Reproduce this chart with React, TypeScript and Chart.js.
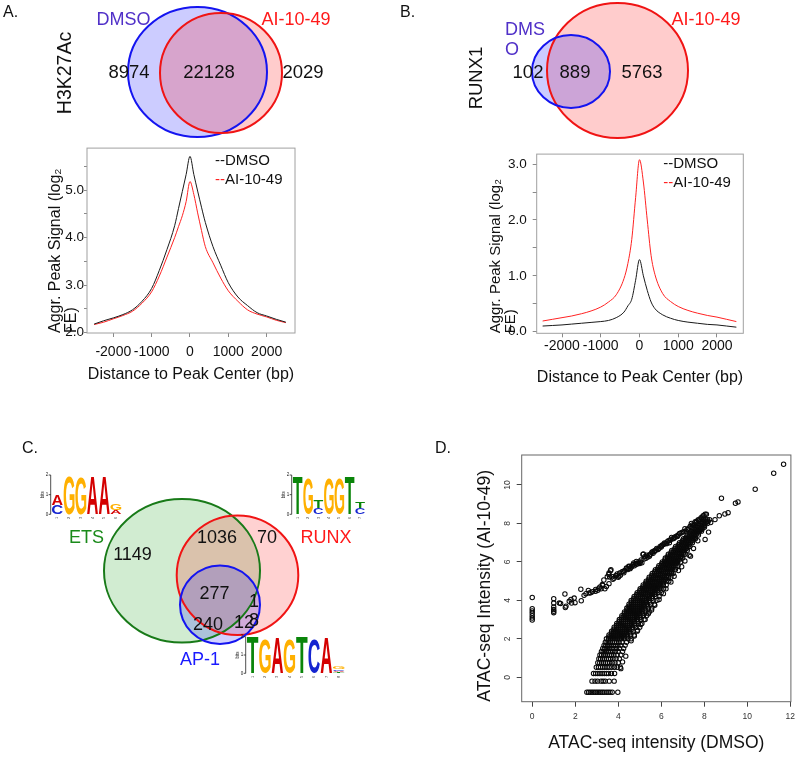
import React, { useEffect, useRef } from "react";
import { Chart, registerables } from "chart.js";

Chart.register(...registerables);

const FONT = '"Liberation Sans", Arial, Helvetica, sans-serif';
Chart.defaults.font.family = FONT;
Chart.defaults.color = "#111";

// ---------------- Panels A / B : aggregate peak profiles ----------------
const distanceBp = [-2500, -2250, -2000, -1750, -1500, -1250, -1000, -800, -600, -400, -300, -200, -100, 0, 100, 200, 300, 400, 600, 800, 1000, 1250, 1500, 1750, 2000, 2250, 2500];
const distanceTicks = [-2000, -1000, 0, 1000, 2000];
const seriesNames = ["DMSO", "AI-10-49"];
const h3k27acDmso = [2.18, 2.25, 2.31, 2.38, 2.48, 2.66, 2.93, 3.31, 3.75, 4.25, 4.61, 4.97, 5.33, 5.71, 5.33, 4.98, 4.64, 4.32, 3.81, 3.42, 3.05, 2.75, 2.57, 2.42, 2.35, 2.28, 2.22];
const h3k27acAi = [2.17, 2.22, 2.29, 2.36, 2.45, 2.62, 2.86, 3.19, 3.59, 4.0, 4.23, 4.46, 4.76, 5.18, 4.91, 4.52, 4.15, 3.81, 3.47, 3.15, 2.88, 2.66, 2.48, 2.39, 2.33, 2.26, 2.21];
const runx1Dmso = [0.1, 0.11, 0.12, 0.135, 0.15, 0.165, 0.18, 0.2, 0.25, 0.35, 0.46, 0.58, 0.92, 1.29, 1.0, 0.74, 0.53, 0.41, 0.3, 0.24, 0.2, 0.17, 0.15, 0.13, 0.12, 0.1, 0.08];
const runx1Ai = [0.19, 0.22, 0.25, 0.28, 0.32, 0.37, 0.44, 0.53, 0.66, 0.95, 1.22, 1.65, 2.4, 3.08, 2.68, 2.0, 1.36, 1.02, 0.68, 0.54, 0.45, 0.38, 0.33, 0.29, 0.26, 0.22, 0.18];
const profileXTitle = "Distance to Peak Center (bp)";
const profileYTitle = ["Aggr. Peak Signal (log\u2082", "FE)"];

// ---------------- Venn diagrams ----------------
const vennATitle = "H3K27Ac";
const vennASets = ["DMSO", "AI-10-49"];
const vennACounts = [8974, 22128, 2029];
const vennBTitle = "RUNX1";
const vennBSets = ["DMSO", "AI-10-49"];
const vennBCounts = [102, 889, 5763];
const vennCSets = ["ETS", "RUNX", "AP-1"];
const vennCCounts = [1149, 1036, 70, 277, 1, 240, 12, 8];

// ---------------- Motif logos (stacks bottom -> top, in bits) ----------------
const etsMotif: [string, number][][] = [
  [["C", 0.47], ["A", 0.52]],
  [["G", 1.92]],
  [["G", 1.87]],
  [["A", 1.92]],
  [["A", 1.92]],
  [["A", 0.22], ["G", 0.34]],
];
const runxMotif: [string, number][][] = [
  [["T", 1.92]],
  [["G", 1.83]],
  [["C", 0.3], ["T", 0.4]],
  [["G", 1.83]],
  [["G", 1.83]],
  [["T", 1.92]],
  [["C", 0.3], ["T", 0.3]],
];
const ap1Motif: [string, number][][] = [
  [["T", 1.96]],
  [["G", 1.9]],
  [["A", 1.9]],
  [["G", 1.9]],
  [["T", 1.96]],
  [["C", 1.9]],
  [["A", 1.9]],
  [["T", 0.06], ["A", 0.08], ["C", 0.1], ["G", 0.12]],
];

// ---------------- Panel D : ATAC-seq scatter ----------------
const atacXTitle = "ATAC-seq intensity (DMSO)";
const atacYTitle = "ATAC-seq Intensity (AI-10-49)";
const atacUpperArm: [number, number][] = [
  [0, 4.15], [0, 3.57], [0, 3.45], [0, 3.33], [0, 3.2], [0, 3.08], [0, 2.98],
  [1, 4.09], [1, 3.86], [1, 3.65], [1, 3.52], [1, 3.43], [1, 3.36],
  [1.26, 3.86], [1.32, 3.84], [1.52, 4.33], [1.54, 3.63], [1.57, 3.7], [1.72, 3.95], [1.8, 4.05], [1.83, 3.86], [1.95, 4.12], [1.99, 3.88],
  [2.26, 4.58], [2.28, 3.98], [2.41, 4.26], [2.5, 4.35], [2.61, 4.52], [2.65, 4.38], [2.72, 4.4], [2.8, 4.45], [2.95, 4.57], [2.95, 4.47],
  [3.05, 4.52], [3.1, 4.63], [3.15, 4.7], [3.2, 4.6], [3.26, 4.82], [3.28, 4.78], [3.33, 5.06], [3.38, 4.6], [3.45, 4.72], [3.49, 5.23],
  [3.56, 5.35], [3.57, 5.43], [3.57, 4.87], [3.6, 5.22], [3.64, 5.54], [3.66, 5.59], [3.72, 5.23], [3.75, 5.1], [3.8, 5.15], [3.88, 5.28],
  [3.92, 5.28], [3.95, 5.37], [4.0, 5.2], [4.03, 5.25], [4.07, 5.42], [4.1, 5.3], [4.18, 5.49], [4.23, 5.5], [4.26, 5.43], [4.3, 5.55],
  [4.38, 5.68], [4.41, 5.66], [4.45, 5.6], [4.49, 5.77], [4.53, 5.76], [4.55, 5.65], [4.6, 5.72], [4.64, 5.78], [4.68, 5.85], [4.72, 5.95],
  [4.75, 5.8], [4.8, 5.92], [4.84, 6.02], [4.85, 5.88], [4.9, 5.9], [4.95, 6.0], [5.0, 5.92], [5.03, 6.0], [5.06, 6.1], [5.1, 5.95],
  [5.15, 6.39], [5.17, 6.41], [5.2, 6.15], [5.25, 6.28], [5.29, 6.19], [5.33, 6.35], [5.38, 6.25], [5.44, 6.36], [5.45, 6.3], [5.5, 6.4],
  [5.56, 6.49], [5.59, 6.53], [5.62, 6.45], [5.68, 6.58], [5.7, 6.55], [5.75, 6.62], [5.79, 6.7], [5.85, 6.65], [5.9, 6.71], [5.95, 6.8],
  [6.0, 6.78], [6.02, 6.84], [6.05, 6.88], [6.1, 6.9], [6.15, 6.98], [6.18, 6.95], [6.25, 6.95], [6.28, 7.05], [6.33, 7.1], [6.38, 7.0],
  [6.4, 7.12], [6.44, 7.17], [6.48, 7.27], [6.55, 7.2], [6.59, 7.23], [6.62, 7.28], [6.65, 7.3], [6.72, 7.35], [6.75, 7.32], [6.79, 7.4],
  [6.85, 7.48], [6.92, 7.5], [6.98, 7.55], [7.05, 7.57], [7.1, 7.73], [7.15, 7.6], [7.2, 7.69], [7.25, 7.68], [7.28, 7.75], [7.35, 7.85],
  [7.4, 8.0], [7.43, 7.8], [7.45, 7.92], [7.5, 7.9], [7.55, 7.95], [7.58, 8.09], [7.62, 8.05], [7.65, 8.1], [7.71, 8.18], [7.73, 8.18],
  [7.8, 8.2], [7.85, 8.3], [7.88, 8.27], [7.94, 8.39], [7.98, 8.42], [8.04, 8.48], [8.1, 8.48],
];
const atacBandRows: [number, number[]][] = [
  [-0.78, [2.54, 2.62, 2.7, 2.78, 2.86, 2.94, 3.02, 3.1, 3.18, 3.26, 3.34, 3.44, 3.53, 3.62, 3.72, 3.98]],
  [-0.2, [2.78, 2.92, 3.04, 3.2, 3.3, 3.4, 3.58, 3.81]],
  [0.2, [2.85, 2.95, 3.05, 3.15, 3.25, 3.35, 3.45, 3.55, 3.68, 3.83]],
  [0.52, [2.98, 3.08, 3.18, 3.28, 3.38, 3.48, 3.58, 3.7, 3.82, 3.95, 4.1]],
  [0.76, [3.05, 3.14, 3.23, 3.32, 3.41, 3.5, 3.6, 3.72, 3.85, 4.0]],
  [0.97, [3.1, 3.18, 3.27, 3.36, 3.45, 3.54, 3.64, 3.76, 3.9, 4.05]],
  [1.16, [3.15, 3.23, 3.32, 3.4, 3.49, 3.58, 3.68, 3.8, 3.95, 4.12]],
  [1.34, [3.22, 3.3, 3.38, 3.46, 3.55, 3.64, 3.74, 3.86, 4.0, 4.2]],
  [1.5, [3.28, 3.36, 3.44, 3.52, 3.6, 3.7, 3.8, 3.92, 4.06, 4.25]],
  [1.66, [3.34, 3.42, 3.5, 3.58, 3.67, 3.76, 3.86, 3.98, 4.12, 4.32]],
  [1.82, [3.4, 3.48, 3.56, 3.64, 3.73, 3.82, 3.92, 4.04, 4.18, 4.38]],
  [2.0, [3.45, 3.55, 3.65, 3.75, 3.85, 3.95, 4.05, 4.15, 4.3, 4.45, 4.6]],
  [2.1, [3.56, 3.66, 3.76, 3.86, 3.96, 4.06, 4.16, 4.27, 4.4]],
  [2.2, [3.57, 3.67, 3.77, 3.87, 3.97, 4.07, 4.17, 4.28, 4.42, 4.58, 4.74]],
  [2.3, [3.68, 3.78, 3.88, 3.98, 4.08, 4.18, 4.28, 4.39, 4.52]],
  [2.4, [3.69, 3.79, 3.89, 3.99, 4.09, 4.19, 4.29, 4.4, 4.55, 4.7, 4.88]],
  [2.5, [3.8, 3.9, 4.0, 4.1, 4.2, 4.3, 4.4, 4.51, 4.64]],
  [2.6, [3.81, 3.91, 4.01, 4.11, 4.21, 4.31, 4.41, 4.52, 4.67, 4.83, 5.0]],
  [2.7, [3.92, 4.02, 4.12, 4.22, 4.32, 4.42, 4.52, 4.63, 4.76]],
  [2.8, [3.93, 4.03, 4.13, 4.23, 4.33, 4.43, 4.53, 4.64, 4.78, 4.94, 5.1]],
  [2.9, [4.04, 4.14, 4.24, 4.34, 4.44, 4.54, 4.64, 4.75, 4.88]],
  [3.0, [4.05, 4.15, 4.25, 4.35, 4.45, 4.55, 4.65, 4.76, 4.9, 5.05, 5.2]],
  [3.1, [4.16, 4.26, 4.36, 4.46, 4.56, 4.66, 4.76, 4.87, 5.0]],
  [3.2, [4.17, 4.27, 4.37, 4.47, 4.57, 4.67, 4.77, 4.88, 5.02, 5.17, 5.32]],
  [3.3, [4.28, 4.38, 4.48, 4.58, 4.68, 4.78, 4.88, 4.99, 5.12]],
  [3.4, [4.29, 4.39, 4.49, 4.59, 4.69, 4.79, 4.89, 5.0, 5.14, 5.29, 5.44]],
  [3.5, [4.4, 4.5, 4.6, 4.7, 4.8, 4.9, 5.0, 5.11, 5.24]],
  [3.6, [4.4, 4.5, 4.6, 4.7, 4.8, 4.9, 5.0, 5.11, 5.25, 5.4, 5.56]],
  [3.7, [4.5, 4.6, 4.7, 4.8, 4.9, 5.0, 5.1, 5.21, 5.34]],
  [3.8, [4.5, 4.6, 4.7, 4.8, 4.9, 5.0, 5.1, 5.21, 5.35, 5.51, 5.68]],
  [3.9, [4.6, 4.7, 4.8, 4.9, 5.0, 5.1, 5.2, 5.31, 5.45]],
  [4.0, [4.6, 4.7, 4.8, 4.9, 5.0, 5.1, 5.2, 5.31, 5.46, 5.62, 5.8]],
  [4.1, [4.72, 4.82, 4.92, 5.02, 5.12, 5.22, 5.32, 5.43, 5.56]],
  [4.2, [4.74, 4.84, 4.94, 5.04, 5.14, 5.24, 5.34, 5.45, 5.59, 5.74, 5.9]],
  [4.3, [4.86, 4.96, 5.06, 5.16, 5.26, 5.36, 5.46, 5.57, 5.69]],
  [4.4, [4.88, 4.98, 5.08, 5.18, 5.28, 5.38, 5.48, 5.59, 5.72, 5.86, 6.0]],
  [4.5, [5.0, 5.1, 5.2, 5.3, 5.4, 5.5, 5.6, 5.71, 5.82]],
  [4.6, [5.02, 5.12, 5.22, 5.32, 5.42, 5.52, 5.62, 5.73, 5.85, 5.98, 6.11]],
  [4.7, [5.14, 5.24, 5.34, 5.44, 5.54, 5.64, 5.74, 5.85, 5.95]],
  [4.8, [5.16, 5.26, 5.36, 5.46, 5.56, 5.66, 5.76, 5.87, 5.98, 6.1, 6.23]],
  [4.9, [5.28, 5.38, 5.48, 5.58, 5.68, 5.78, 5.88, 5.98, 6.08]],
  [5.0, [5.3, 5.4, 5.5, 5.6, 5.7, 5.8, 5.9, 6.0, 6.11, 6.23, 6.35]],
  [5.1, [5.42, 5.52, 5.62, 5.72, 5.82, 5.92, 6.02, 6.12, 6.2]],
  [5.2, [5.44, 5.54, 5.64, 5.74, 5.84, 5.94, 6.04, 6.14, 6.24, 6.34, 6.45]],
  [5.3, [5.56, 5.66, 5.76, 5.86, 5.96, 6.06, 6.16, 6.26, 6.33]],
  [5.4, [5.58, 5.68, 5.78, 5.88, 5.98, 6.08, 6.18, 6.28, 6.38, 6.47, 6.55]],
  [5.5, [5.7, 5.8, 5.9, 6.0, 6.1, 6.2, 6.3, 6.4, 6.47]],
  [5.6, [5.73, 5.83, 5.93, 6.03, 6.13, 6.23, 6.33, 6.43, 6.54, 6.66]],
  [5.7, [5.86, 5.96, 6.06, 6.16, 6.26, 6.36, 6.46, 6.55]],
  [5.8, [5.89, 5.99, 6.09, 6.19, 6.29, 6.39, 6.49, 6.59, 6.68, 6.78]],
  [5.9, [6.02, 6.12, 6.22, 6.32, 6.42, 6.52, 6.62, 6.7]],
  [6.0, [6.05, 6.15, 6.25, 6.35, 6.45, 6.55, 6.65, 6.75, 6.9]],
  [6.1, [6.17, 6.27, 6.37, 6.47, 6.57, 6.67, 6.77, 6.84]],
  [6.2, [6.19, 6.29, 6.39, 6.49, 6.59, 6.69, 6.79, 6.89, 7.0]],
  [6.3, [6.31, 6.41, 6.51, 6.61, 6.71, 6.81, 6.9, 6.96]],
  [6.4, [6.33, 6.43, 6.53, 6.63, 6.73, 6.83, 6.93, 7.02, 7.1]],
  [6.5, [6.46, 6.56, 6.66, 6.76, 6.86, 6.96, 7.04]],
  [6.6, [6.49, 6.59, 6.69, 6.79, 6.89, 6.99, 7.09, 7.21]],
  [6.7, [6.63, 6.73, 6.83, 6.93, 7.03, 7.12, 7.18]],
  [6.8, [6.67, 6.77, 6.87, 6.97, 7.07, 7.17, 7.25, 7.33]],
  [6.9, [6.81, 6.91, 7.01, 7.11, 7.21, 7.3]],
  [7.0, [6.85, 6.95, 7.05, 7.15, 7.25, 7.35, 7.45]],
  [7.1, [6.99, 7.09, 7.19, 7.29, 7.39, 7.46]],
  [7.2, [7.03, 7.13, 7.23, 7.33, 7.43, 7.51, 7.59]],
  [7.3, [7.17, 7.27, 7.37, 7.47, 7.57]],
  [7.4, [7.21, 7.31, 7.41, 7.51, 7.61, 7.73]],
  [7.5, [7.35, 7.45, 7.55, 7.65, 7.73]],
  [7.6, [7.39, 7.49, 7.59, 7.69, 7.78, 7.87]],
  [7.7, [7.53, 7.63, 7.73, 7.83, 7.9]],
  [7.8, [7.57, 7.67, 7.77, 7.87, 7.95, 8.01]],
  [7.9, [7.71, 7.81, 7.91, 8.01]],
  [8.0, [7.75, 7.85, 7.95, 8.05, 8.15]],
  [8.1, [7.9, 8.0, 8.1, 8.18]],
  [8.2, [7.95, 8.05, 8.15, 8.25]],
];
const atacOutliers: [number, number][] = [
  [4.12, 0.45], [4.2, 0.8], [4.35, 1.1], [4.6, 1.9], [4.75, 2.15], [4.9, 2.45], [5.05, 2.75], [5.25, 3.0], [5.4, 3.3],
  [5.55, 3.5], [5.7, 3.75], [5.9, 4.05], [6.1, 4.35], [6.22, 4.6], [6.45, 4.95], [6.6, 5.25], [6.8, 5.55], [6.95, 5.75],
  [7.1, 6.05], [7.3, 6.35], [7.36, 6.3], [7.5, 6.7], [7.7, 7.1], [8.04, 7.17], [8.2, 7.55],
  [8.3, 8.05], [8.5, 8.2], [8.7, 8.4], [8.96, 8.49], [9.11, 8.56], [8.8, 9.31], [9.45, 9.05], [9.57, 9.12],
  [10.37, 9.78], [11.23, 10.61], [11.69, 11.08],
];

// ---------------- helpers ----------------
const plotBox = {
  id: "plotBox",
  afterDraw(chart: any, _a: any, opts: any) {
    const { ctx, chartArea: c } = chart;
    ctx.save();
    ctx.strokeStyle = opts.color || "#999";
    ctx.lineWidth = 1;
    ctx.strokeRect(c.left, c.top, c.right - c.left, c.bottom - c.top);
    ctx.restore();
  },
};

const profileLegend = {
  id: "profileLegend",
  afterDraw(chart: any, _a: any, opts: any) {
    const { ctx } = chart;
    ctx.save();
    ctx.font = `15px ${FONT}`;
    ctx.textBaseline = "middle";
    ctx.textAlign = "left";
    chart.data.datasets.forEach((ds: any, i: number) => {
      const y = opts.y[i];
      ctx.fillStyle = ds.borderColor;
      ctx.fillText("--", opts.x, y);
      const w = ctx.measureText("--").width;
      ctx.fillStyle = "#111";
      ctx.fillText(ds.label, opts.x + w, y);
    });
    ctx.restore();
  },
};

function buildProfile(dmso: number[], ai: number[], L: any) {
  return {
    type: "line",
    data: {
      datasets: [
        { label: seriesNames[0], data: distanceBp.map((x, i) => ({ x, y: dmso[i] })), borderColor: "#1a1a1a", borderWidth: 1, pointRadius: 0, cubicInterpolationMode: "monotone", fill: false },
        { label: seriesNames[1], data: distanceBp.map((x, i) => ({ x, y: ai[i] })), borderColor: "#ff2222", borderWidth: 1, pointRadius: 0, cubicInterpolationMode: "monotone", fill: false },
      ],
    },
    options: {
      responsive: false,
      animation: false,
      events: [],
      layout: { padding: { top: L.padTop, right: L.padRight, left: 0, bottom: 0 } },
      plugins: {
        legend: { display: false },
        tooltip: { enabled: false },
        plotBox: { color: "#a0a0a0" },
        profileLegend: { x: L.legendX, y: L.legendY },
      },
      scales: {
        x: {
          type: "linear",
          min: L.xMin,
          max: L.xMax,
          afterFit: (s: any) => { s.height = L.xAxisHeight; },
          afterBuildTicks: (s: any) => { s.ticks = distanceTicks.map((v) => ({ value: v })); },
          ticks: { autoSkip: false, maxRotation: 0, minRotation: 0, padding: L.xTickPad, color: "#111", font: { size: 14 }, callback: (v: any) => String(v) },
          grid: { drawOnChartArea: false, drawTicks: true, tickLength: 4, color: "#8a8a8a" },
          border: { display: false },
          title: { display: true, text: profileXTitle, color: "#111", font: { size: 16 }, padding: { top: 0, bottom: L.xTitlePad } },
        },
        y: {
          type: "linear",
          min: L.yMin,
          max: L.yMax,
          afterFit: (s: any) => { s.width = L.yAxisWidth; },
          ticks: {
            stepSize: 0.5, includeBounds: false, autoSkip: false, padding: L.yTickPad, color: "#111", font: { size: 13.5 },
            callback: (v: any) => (Math.abs(v - Math.round(v)) < 1e-6 ? Number(v).toFixed(1) : ""),
          },
          grid: { drawOnChartArea: false, drawTicks: true, tickLength: L.yTickLen, color: "#8a8a8a" },
          border: { display: false },
          title: { display: true, text: profileYTitle, align: "start", color: "#111", font: { size: L.yTitleSize, lineHeight: L.yTitleLH }, padding: { top: L.yTitlePad, bottom: 0 } },
        },
      },
    },
    plugins: [plotBox, profileLegend],
  };
}

const layoutA = { xMin: -2686, xMax: 2739, yMin: 1.992, yMax: 5.884, yAxisWidth: 87, xAxisHeight: 57, padTop: 5, padRight: 15, yTickLen: 3, yTickPad: 0, xTickPad: 7, xTitlePad: 5.4, yTitleSize: 16, yTitleLH: 1.0, yTitlePad: 48, legendX: 215, legendY: [21, 40] };
const layoutB = { xMin: -2653, xMax: 2679, yMin: -0.03, yMax: 3.18, yAxisWidth: 126.7, xAxisHeight: 56.7, padTop: 9.5, padRight: 11.7, yTickLen: 4, yTickPad: 6, xTickPad: 0, xTitlePad: 3.1, yTitleSize: 15, yTitleLH: 0.95, yTitlePad: 79, legendX: 253.3, legendY: [24, 42.5] };

function buildScatter() {
  const bandPts: [number, number][] = [];
  atacBandRows.forEach(([y, xs]) => xs.forEach((x) => bandPts.push([x, y])));
  const toXY = (arr: [number, number][]) => arr.map(([x, y]) => ({ x, y }));
  const style = { pointStyle: "circle", pointRadius: 2.2, pointBorderWidth: 1.05, pointBorderColor: "#0a0a0a", pointBackgroundColor: "rgba(0,0,0,0)", showLine: false };
  return {
    type: "scatter",
    data: {
      datasets: [
        { label: "upper", data: toXY(atacUpperArm), ...style },
        { label: "band", data: toXY(bandPts), ...style },
        { label: "outliers", data: toXY(atacOutliers), ...style },
      ],
    },
    options: {
      responsive: false,
      animation: false,
      events: [],
      layout: { padding: { top: 25, right: 6.7, left: 0, bottom: 0 } },
      plugins: { legend: { display: false }, tooltip: { enabled: false }, plotBox: { color: "#666" } },
      scales: {
        x: {
          type: "linear", min: -0.49, max: 12.03,
          afterFit: (s: any) => { s.height = 55.3; },
          ticks: { stepSize: 2, includeBounds: false, autoSkip: false, maxRotation: 0, padding: 5, color: "#333", font: { size: 8.5 }, callback: (v: any) => String(v) },
          grid: { drawOnChartArea: false, drawTicks: true, tickLength: 5, color: "#444" },
          border: { display: false },
          title: { display: true, text: atacXTitle, color: "#111", font: { size: 17.5 }, padding: { top: 0, bottom: 3.2 } },
        },
        y: {
          type: "linear", min: -1.27, max: 11.56,
          afterFit: (s: any) => { s.width = 101.7; },
          ticks: { stepSize: 2, includeBounds: false, autoSkip: false, minRotation: 90, maxRotation: 90, crossAlign: "center", padding: 4, color: "#333", font: { size: 8.5 }, callback: (v: any) => String(v) },
          grid: { drawOnChartArea: false, drawTicks: true, tickLength: 5, color: "#444" },
          border: { display: false },
          title: { display: true, text: atacYTitle, align: "start", color: "#111", font: { size: 17.5 }, padding: { top: 54.5, bottom: 0 } },
        },
      },
    },
    plugins: [plotBox],
  };
}

// ---------------- overlay (panel letters, Venns, logos) ----------------
const GLYPH_COLORS: Record<string, string> = { A: "#d40000", C: "#1525d0", G: "#ffb000", T: "#0a850a" };

const vennALayout = {
  shapes: [
    { cx: 197.5, cy: 72, rx: 69.5, ry: 65, fill: "rgba(0,0,255,0.2)", stroke: "#1414f0" },
    { cx: 221, cy: 73, rx: 61, ry: 60, fill: "rgba(255,0,0,0.2)", stroke: "#f01414" },
  ],
  labels: [{ x: 123.5, y: 25, color: "#5030c8", align: "center" }, { x: 296, y: 25, color: "#ff1a1a", align: "center" }],
  counts: [[129, 78], [209, 78], [303, 78]],
  title: [66, 73, 19.5],
};
const vennBLayout = {
  shapes: [
    { cx: 617.5, cy: 70.5, rx: 70.5, ry: 67.5, fill: "rgba(255,0,0,0.2)", stroke: "#f01414" },
    { cx: 571, cy: 71.5, rx: 39, ry: 36.5, fill: "rgba(0,0,255,0.2)", stroke: "#1414f0" },
  ],
  labels: [{ x: 505, y: 35, color: "#5030c8", align: "left", wrap: 3 }, { x: 706, y: 25, color: "#ff1a1a", align: "center" }],
  counts: [[528, 78], [575, 78], [642, 78]],
  title: [477, 78, 18.5],
};
const vennCLayout = {
  shapes: [
    { cx: 182, cy: 570.7, rx: 78, ry: 71.7, fill: "rgba(0,150,0,0.18)", stroke: "#187a18" },
    { cx: 237.5, cy: 575.3, rx: 60.8, ry: 59.7, fill: "rgba(255,0,0,0.18)", stroke: "#f01414" },
    { cx: 220, cy: 604.8, rx: 40, ry: 39.2, fill: "rgba(0,0,255,0.18)", stroke: "#1414f0" },
  ],
  labels: [{ x: 86.5, y: 543, color: "#1a8a1a", align: "center" }, { x: 326, y: 543, color: "#ff1a1a", align: "center" }, { x: 200, y: 665, color: "#1a1aff", align: "center" }],
  counts: [[132.5, 560], [217, 543], [267, 543], [214.5, 599], [254, 607], [208, 630], [244, 628], [254, 626]],
};
const etsLogoLayout = { axisX: 50.7, zeroY: 514.3, bit: 19.65, colX0: 51.5, colW: 11.7 };
const runxLogoLayout = { axisX: 291.7, zeroY: 514.3, bit: 19.65, colX0: 292.5, colW: 10.4 };
const ap1LogoLayout = { axisX: 245.7, zeroY: 673.3, bit: 18.3, colX0: 246.5, colW: 12.3 };
const panelLetters: [string, number, number][] = [["A.", 3, 17], ["B.", 400, 17], ["C.", 22, 453], ["D.", 435, 453]];

function drawGlyph(ctx: CanvasRenderingContext2D, ch: string, x: number, y: number, w: number, h: number) {
  if (h < 0.4 || w <= 0) return;
  ctx.save();
  ctx.font = `bold 100px ${FONT}`;
  ctx.textAlign = "left";
  ctx.textBaseline = "alphabetic";
  const m = ctx.measureText(ch);
  const gw = m.actualBoundingBoxLeft + m.actualBoundingBoxRight;
  const gh = m.actualBoundingBoxAscent + m.actualBoundingBoxDescent;
  ctx.translate(x, y);
  ctx.scale(w / gw, h / gh);
  ctx.fillStyle = GLYPH_COLORS[ch] || "#000";
  ctx.fillText(ch, m.actualBoundingBoxLeft, m.actualBoundingBoxAscent);
  ctx.restore();
}

const figureOverlay = {
  id: "figureOverlay",
  afterDraw(chart: any) {
    const { ctx } = chart;
    const sx = chart.scales.x;
    const sy = chart.scales.y;
    const X = (v: number) => sx.getPixelForValue(v);
    const Y = (v: number) => sy.getPixelForValue(v);
    const W = (v: number) => Math.abs(sx.getPixelForValue(v) - sx.getPixelForValue(0));
    const H = (v: number) => Math.abs(sy.getPixelForValue(v) - sy.getPixelForValue(0));

    const txt = (s: string, x: number, y: number, size: number, color: string, align: any = "center", rot = 0, base: any = "alphabetic") => {
      ctx.save();
      ctx.font = `${size}px ${FONT}`;
      ctx.fillStyle = color;
      ctx.textAlign = align;
      ctx.textBaseline = base;
      ctx.translate(X(x), Y(y));
      if (rot) ctx.rotate(rot);
      ctx.fillText(s, 0, 0);
      ctx.restore();
    };

    const venn = (L: any, sets: string[], counts: number[], numSize: number, title?: string) => {
      ctx.save();
      L.shapes.forEach((s: any) => {
        ctx.beginPath();
        ctx.ellipse(X(s.cx), Y(s.cy), W(s.rx), H(s.ry), 0, 0, Math.PI * 2);
        ctx.fillStyle = s.fill;
        ctx.fill();
      });
      L.shapes.forEach((s: any) => {
        ctx.beginPath();
        ctx.ellipse(X(s.cx), Y(s.cy), W(s.rx), H(s.ry), 0, 0, Math.PI * 2);
        ctx.lineWidth = 2;
        ctx.strokeStyle = s.stroke;
        ctx.stroke();
      });
      ctx.restore();
      sets.forEach((name, i) => {
        const lab = L.labels[i];
        if (lab.wrap) {
          txt(name.slice(0, lab.wrap), lab.x, lab.y, 18, lab.color, lab.align);
          txt(name.slice(lab.wrap), lab.x, lab.y + 20, 18, lab.color, lab.align);
        } else {
          txt(name, lab.x, lab.y, 18, lab.color, lab.align);
        }
      });
      counts.forEach((n, i) => {
        const [cx, cy] = L.counts[i];
        txt(String(n), cx, cy, numSize, "#111");
      });
      if (title && L.title) txt(title, L.title[0], L.title[1], L.title[2], "#111", "center", -Math.PI / 2, "middle");
    };

    const logo = (motif: [string, number][][], L: any) => {
      const ax = X(L.axisX);
      const y0 = Y(L.zeroY);
      const bp = H(L.bit);
      ctx.save();
      ctx.strokeStyle = "#222";
      ctx.lineWidth = 0.8;
      ctx.beginPath();
      ctx.moveTo(ax, y0);
      ctx.lineTo(ax, y0 - 2 * bp);
      for (let b = 0; b <= 2; b++) {
        ctx.moveTo(ax - 2, y0 - b * bp);
        ctx.lineTo(ax, y0 - b * bp);
      }
      ctx.stroke();
      ctx.fillStyle = "#222";
      ctx.font = `4.5px ${FONT}`;
      ctx.textAlign = "right";
      ctx.textBaseline = "middle";
      for (let b = 0; b <= 2; b++) ctx.fillText(String(b), ax - 2.5, y0 - b * bp);
      ctx.translate(ax - 7.5, y0 - bp);
      ctx.rotate(-Math.PI / 2);
      ctx.textAlign = "center";
      ctx.fillText("bits", 0, 0);
      ctx.restore();
      const cw = W(L.colW);
      motif.forEach((stack, i) => {
        let base = y0;
        const cx = X(L.colX0) + i * cw;
        stack.forEach(([ch, bits]) => {
          const h = bits * bp;
          drawGlyph(ctx, ch, cx + 0.4, base - h, cw - 0.8, h);
          base -= h;
        });
        ctx.save();
        ctx.fillStyle = "#444";
        ctx.font = `4px ${FONT}`;
        ctx.translate(cx + cw / 2, y0 + 3.5);
        ctx.rotate(-Math.PI / 2);
        ctx.textAlign = "center";
        ctx.textBaseline = "middle";
        ctx.fillText(String(i + 1), 0, 0);
        ctx.restore();
      });
    };

    panelLetters.forEach(([s, x, y]) => txt(s, x, y, 16, "#111", "left"));
    venn(vennALayout, vennASets, vennACounts, 18.5, vennATitle);
    venn(vennBLayout, vennBSets, vennBCounts, 18.5, vennBTitle);
    venn(vennCLayout, vennCSets, vennCCounts, 18);
    logo(etsMotif, etsLogoLayout);
    logo(runxMotif, runxLogoLayout);
    logo(ap1Motif, ap1LogoLayout);
  },
};

function buildOverlay() {
  return {
    type: "scatter",
    data: { datasets: [] },
    options: {
      responsive: false,
      animation: false,
      events: [],
      layout: { padding: 0 },
      plugins: { legend: { display: false }, tooltip: { enabled: false } },
      scales: {
        x: { type: "linear", min: 0, max: 800, display: false },
        y: { type: "linear", min: 0, max: 757, reverse: true, display: false },
      },
    },
    plugins: [figureOverlay],
  };
}

function ChartCanvas({ left, top, width, height, build }: { left: number; top: number; width: number; height: number; build: () => any }) {
  const ref = useRef<HTMLCanvasElement | null>(null);
  useEffect(() => {
    if (!ref.current) return;
    const chart = new Chart(ref.current, build());
    return () => chart.destroy();
  }, []);
  return <canvas ref={ref} width={width} height={height} style={{ position: "absolute", left, top, width, height }} />;
}

export default function App() {
  return (
    <div style={{ position: "absolute", left: 0, top: 0, width: 800, height: 757, background: "#fff", overflow: "hidden" }}>
      <ChartCanvas left={0} top={0} width={800} height={757} build={buildOverlay} />
      <ChartCanvas left={0} top={140} width={310} height={250} build={() => buildProfile(h3k27acDmso, h3k27acAi, layoutA)} />
      <ChartCanvas left={410} top={140} width={345} height={250} build={() => buildProfile(runx1Dmso, runx1Ai, layoutB)} />
      <ChartCanvas left={420} top={430} width={380} height={327} build={buildScatter} />
    </div>
  );
}
